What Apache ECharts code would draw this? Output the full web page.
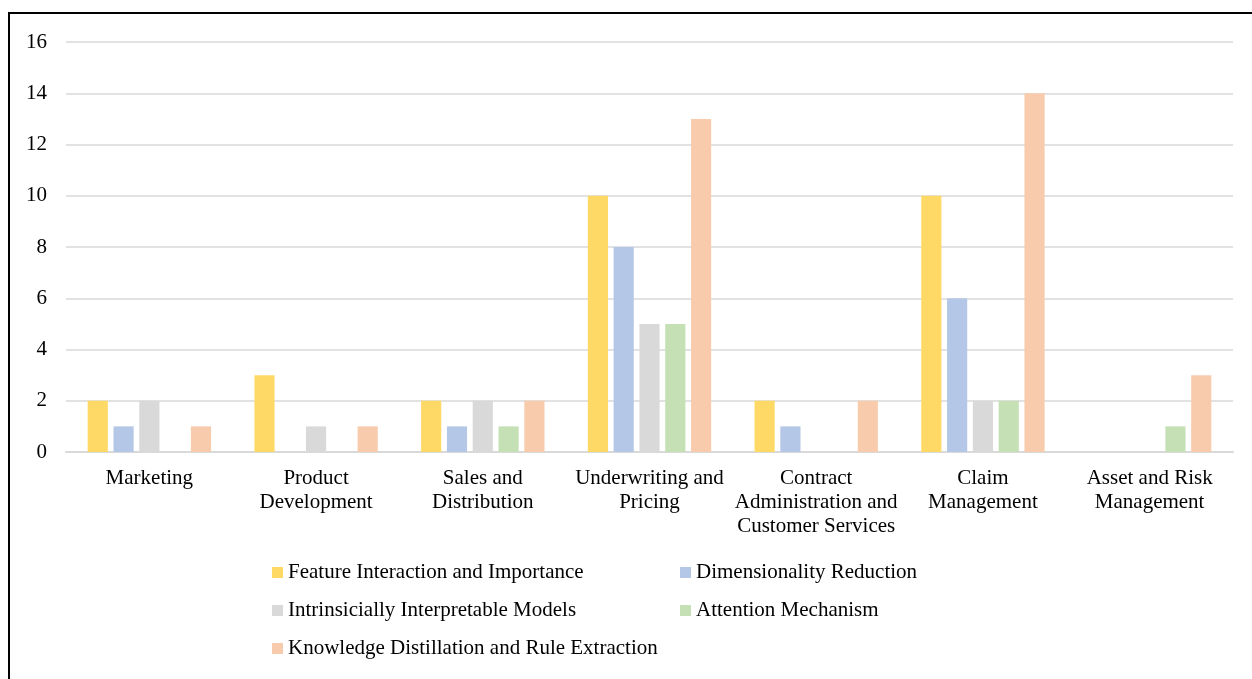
<!DOCTYPE html>
<html><head><meta charset="utf-8">
<script src="https://cdn.jsdelivr.net/npm/echarts@6/dist/echarts.min.js"></script>
<style>html,body{margin:0;padding:0;background:#fff}#c{width:1252px;height:679px}</style>
</head><body><div id="c"></div>
<script>
const categories = ["Marketing","Product\nDevelopment","Sales and\nDistribution","Underwriting and\nPricing","Contract\nAdministration and\nCustomer Services","Claim\nManagement","Asset and Risk\nManagement"];
const seriesNames = ["Feature Interaction and Importance","Dimensionality Reduction","Intrinsicially Interpretable Models","Attention Mechanism","Knowledge Distillation and Rule Extraction"];
const featureInteraction = [2,3,2,10,2,10,0];
const dimensionality = [1,0,1,8,1,6,0];
const intrinsic = [2,1,2,5,0,2,0];
const attention = [0,0,1,5,0,2,1];
const knowledge = [1,1,2,13,2,14,3];
const yTicks = [0,2,4,6,8,10,12,14,16];

const colors = ["#FFD966","#B4C7E7","#D9D9D9","#C5E0B4","#F8CBAD"];
const values = [featureInteraction,dimensionality,intrinsic,attention,knowledge];
const font = "'Liberation Serif','Times New Roman',serif";
const chart = echarts.init(document.getElementById('c'));
const legendPos = [[272,562],[680,562],[272,600],[680,600],[272,638]];
chart.setOption({
  animation:false,
  color: colors,
  graphic:[{type:'rect',shape:{x:9,y:13,width:1300,height:700},style:{fill:'none',stroke:'#000',lineWidth:2}}],
  grid:{left:66,right:19,top:42,bottom:227},
  legend: seriesNames.map((n,i)=>({data:[n],left:legendPos[i][0],top:legendPos[i][1],padding:0,itemWidth:11,itemHeight:11,itemGap:5,icon:'rect',textStyle:{fontFamily:font,fontSize:21,color:'#000'}})),
  xAxis:{type:'category',data:categories,axisLine:{lineStyle:{color:'#D9D9D9',width:2}},axisTick:{show:false},
    axisLabel:{interval:0,fontFamily:font,fontSize:21,color:'#000',lineHeight:24,margin:14}},
  yAxis:{type:'value',min:yTicks[0],max:yTicks[yTicks.length-1],interval:2,axisLine:{show:false},axisTick:{show:false},
    splitLine:{lineStyle:{color:'#D9D9D9',width:1.5}},axisLabel:{fontFamily:font,fontSize:21,color:'#000',margin:19}},
  series: seriesNames.map((n,i)=>({name:n,type:'bar',data:values[i],barGap:'28%',barCategoryGap:'26%',itemStyle:{color:colors[i]}}))
});
</script></body></html>
